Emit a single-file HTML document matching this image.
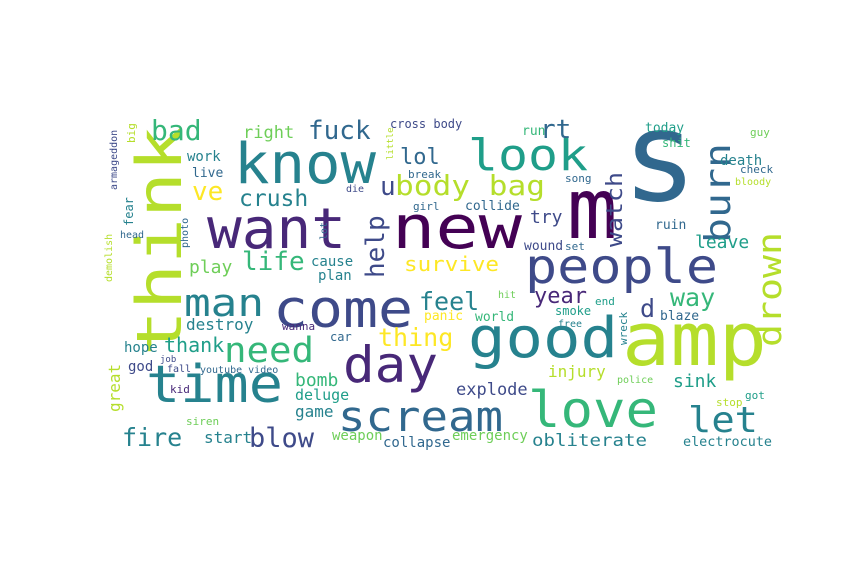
<!DOCTYPE html>
<html><head><meta charset="utf-8"><style>
html,body{margin:0;padding:0;background:#fff;}
svg{display:block;}
text{font-family:"DejaVu Sans Mono","Liberation Mono",monospace;}
</style></head><body>
<svg id="wc" width="864" height="576" viewBox="0 0 864 576"></svg>
<script>
// word, font size, colour index, rotated
const words = ["think","know","want","new","look","m","s","people","burn","drown","watch","rt","today","guy","shit","death","check","bloody","lol","fuck","bad","right","cross body","body bag","u","ve","crush","help","collide","try","wound","ruin","leave","set","survive","life","play","cause","plan","work","live","man","come","feel","year","way","d","destroy","need","thing","day","good","amp","time","scream","love","let","fire","blow","start","weapon","collapse","emergency","obliterate","electrocute","explode","injury","sink","police","world","smoke","blaze","bomb","deluge","game","hope","thank","god","youtube video","great","big","armageddon","fear","head","photo","demolish","die","break","girl","song","run","end","free","panic","hit","kid","siren","car","wanna","job","fall","stop","got","wreck","lot","little"];
const sizes = [62,56,56,60,44,84,125,48,36,33,22,26,13,11,12,14,11,10,22,26,28,17,12,28,26,26,23,26,13,18,13,13,18,11,20,26,18,14,14,14,13,38,52,25,22,25,25,16,35,25,50,56,74,52,42,50,36,25,27,16,14,14,14,17,13,17,16,18,10,13,12,13,18,15,16,14,20,14,10,16,11,10,12,10,10,10,10,11,11,11,13,11,10,13,10,11,11,12,11,9,10,11,11,11,10,9,9];
const colorIdx = [8,4,1,0,5,0,3,2,3,8,2,3,5,7,6,4,3,8,3,3,6,7,2,8,2,9,4,2,3,2,2,3,5,3,9,6,7,4,4,4,3,4,2,4,1,6,2,4,6,9,1,4,8,4,3,6,4,4,2,4,7,3,7,4,4,2,8,5,7,6,5,3,6,5,4,4,5,2,3,8,8,2,4,3,3,8,2,3,3,3,6,5,4,9,7,1,7,3,1,2,2,8,5,4,3,8];
const rotated = ["think","burn","drown","watch","help","great","big","armageddon","fear","photo","demolish","wreck","lot","little"];
const pos = {"think":[181,356],"know":[234,183],"want":[207,248],"new":[392,248],"look":[468,170],"m":[567,238],"s":[622,200],"people":[525,283],"burn":[730,243],"drown":[781,347],"watch":[622,247],"rt":[540,138],"today":[645,132],"guy":[750,136],"shit":[662,147],"death":[720,165],"check":[740,173],"bloody":[735,185],"lol":[400,164],"fuck":[308,139],"bad":[151,140],"right":[243,138],"cross body":[390,128],"body bag":[395,195],"u":[380,195],"ve":[192,200],"crush":[239,206],"help":[384,278],"collide":[465,210],"try":[530,223],"wound":[524,250],"ruin":[655,229],"leave":[695,248],"set":[565,250],"survive":[404,271],"life":[242,270],"play":[189,273],"cause":[311,266],"plan":[318,280],"work":[187,161],"live":[192,177],"man":[184,316],"come":[273,327],"feel":[419,310],"year":[534,303],"way":[670,306],"d":[640,317],"destroy":[186,330],"need":[224,362],"thing":[378,346],"day":[343,382],"good":[468,357],"amp":[622,365],"time":[146,402],"scream":[338,431],"love":[528,427],"let":[688,432],"fire":[122,446],"blow":[249,447],"start":[204,443],"weapon":[332,440],"collapse":[383,447],"emergency":[452,440],"obliterate":[532,446],"electrocute":[683,446],"explode":[456,395],"injury":[548,377],"sink":[673,387],"police":[617,383],"world":[475,321],"smoke":[555,315],"blaze":[660,320],"bomb":[295,386],"deluge":[295,400],"game":[295,417],"hope":[124,352],"thank":[164,352],"god":[128,371],"youtube video":[200,373],"great":[120,412],"big":[135,143],"armageddon":[117,190],"fear":[133,226],"head":[120,238],"photo":[188,248],"demolish":[112,282],"die":[346,192],"break":[408,178],"girl":[413,210],"song":[565,182],"run":[522,135],"end":[595,305],"free":[558,327],"panic":[424,320],"hit":[498,298],"kid":[170,393],"siren":[186,425],"car":[330,341],"wanna":[282,330],"job":[160,362],"fall":[167,372],"stop":[716,406],"got":[745,399],"wreck":[627,345],"lot":[327,240],"little":[393,160]};
const spans = {"think":230,"know":142,"want":139,"new":130,"look":120,"people":193,"burn":100,"drown":115,"watch":75,"body bag":150,"come":140,"man":80,"good":150,"amp":145,"time":137,"scream":165,"love":130,"let":70,"day":95,"need":90,"obliterate":115,"electrocute":89,"survive":95};
const palette = ["#440154","#482878","#3e4a89","#31688e","#26828e","#1f9e89","#35b779","#6ece58","#b5de2b","#fde725"];
const svg = document.getElementById('wc');
const NS = "http://www.w3.org/2000/svg";
words.forEach((w,i)=>{
  const t = document.createElementNS(NS,'text');
  
  
  const p = pos[w] || [400,300];
  t.setAttribute('font-size', sizes[i]);
  t.setAttribute('fill', palette[colorIdx[i]]);
  if (spans[w]) {
    t.setAttribute('textLength', spans[w]);
    t.setAttribute('lengthAdjust', 'spacingAndGlyphs');
  }
  if (rotated.includes(w)) {
    t.setAttribute('transform', `translate(${p[0]},${p[1]}) rotate(-90)`);
  } else {
    t.setAttribute('x', p[0]); t.setAttribute('y', p[1]);
  }
  t.textContent = w;
  svg.appendChild(t);
});
</script>
</body></html>
